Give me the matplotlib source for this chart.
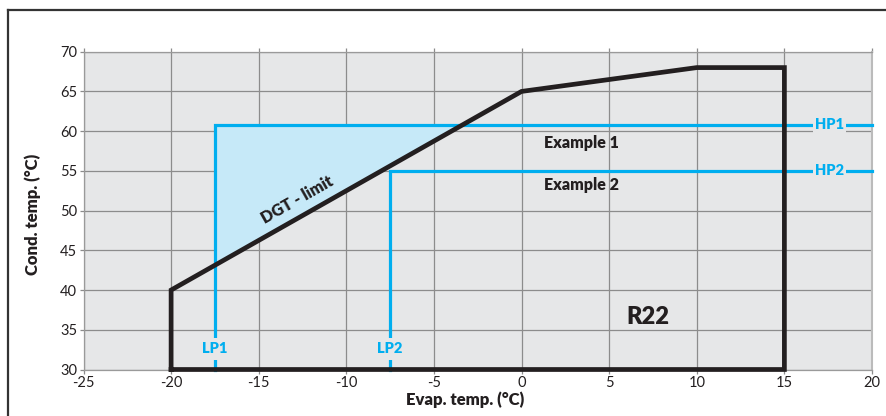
import numpy as np
import matplotlib
matplotlib.use("Agg")
import matplotlib.pyplot as plt
from matplotlib.lines import Line2D

# ---- data ----
env_x = [-20, -20, 0, 10, 15, 15, -20]
env_y = [30, 40, 65, 68, 68, 30, 30]
lp_names = ["LP1", "LP2"]
lp_x = [-17.5, -7.5]
hp_names = ["HP1", "HP2"]
hp_y = [60.8, 55]
example_names = ["Example 1", "Example 2"]
xticks = [-25, -20, -15, -10, -5, 0, 5, 10, 15, 20]
yticks = [30, 35, 40, 45, 50, 55, 60, 65, 70]

plt.rcParams['font.family'] = ['Lato', 'DejaVu Sans']
plt.rcParams['axes.unicode_minus'] = False

BG = '#E6E7E8'
BLUE = '#00AEEF'
FILL = '#C6E9F8'
BLACK = '#231F20'
GRID = '#8C8C8C'
BW = 'heavy'

fig = plt.figure(figsize=(8.86, 4.16), dpi=100)
ax = fig.add_axes([83.5/886, 1-369.5/416, (872-83.5)/886, (369.5-51.7)/416])
ax.set_facecolor(BG)
ax.set_xlim(xticks[0], xticks[-1])
ax.set_ylim(yticks[0], yticks[-1])
ax.set_xticks(xticks)
ax.set_yticks(yticks)
ax.grid(True, color=GRID, linewidth=0.9, zorder=0)
ax.set_axisbelow(True)
ax.tick_params(axis='both', direction='out', length=3, width=0.9, color=GRID,
               labelsize=10.5, labelcolor=BLACK, pad=1.5)
ax.tick_params(axis='x', top=True)
for s in ['left', 'top', 'bottom']:
    ax.spines[s].set_color('#9A9A9A')
    ax.spines[s].set_linewidth(0.9)
ax.spines['right'].set_color('#BBBBBB')
ax.spines['right'].set_linewidth(1.5)

# DGT-limit segment from envelope
dgt_x = env_x[1:3]
dgt_y = env_y[1:3]
def dgt(x):
    return np.interp(x, dgt_x, dgt_y)
slope = (dgt_y[1]-dgt_y[0])/(dgt_x[1]-dgt_x[0])
x_int = dgt_x[0] + (hp_y[0]-dgt_y[0])/slope
xf = np.linspace(lp_x[0], x_int, 50)
ax.fill_between(xf, dgt(xf), hp_y[0], color=FILL, lw=0, zorder=1)

# example lines
for lx, hy in zip(lp_x, hp_y):
    ax.plot([lx, lx, xticks[-1]], [yticks[0], hy, hy], color=BLUE, lw=2.3,
            solid_joinstyle='miter', zorder=3, clip_on=False)

# envelope
ax.plot(env_x, env_y, color=BLACK, lw=3.4, solid_joinstyle='miter',
        zorder=4, clip_on=False)

# labels on lines
for name, lx in zip(lp_names, lp_x):
    ax.text(lx, 32.6, name, color=BLUE, fontsize=10.5, fontweight=BW,
            ha='center', va='center', zorder=5,
            bbox=dict(facecolor=BG, edgecolor='none', pad=3))
for name, hy in zip(hp_names, hp_y):
    ax.text(17.6, hy, name, color=BLUE, fontsize=10.5, fontweight=BW,
            ha='center', va='center', zorder=5,
            bbox=dict(facecolor=BG, edgecolor='none', pad=1.5))
ex_pos_y = [58.5, 53.2]
for name, ey in zip(example_names, ex_pos_y):
    ax.text(3.4, ey, name, color=BLACK, fontsize=11.5, fontweight=BW,
            ha='center', va='center', zorder=5)

# DGT label rotated along the line
p1 = ax.transData.transform((dgt_x[0], dgt_y[0]))
p2 = ax.transData.transform((dgt_x[1], dgt_y[1]))
ang = np.degrees(np.arctan2(p2[1]-p1[1], p2[0]-p1[0]))
ax.text(-12.8, 51.4, "DGT - limit", color=BLACK, fontsize=11.5, fontweight=BW,
        ha='center', va='center', rotation=ang, rotation_mode='anchor', zorder=5)

ax.text(7.2, 36.6, "R22", color=BLACK, fontsize=17, fontweight=BW,
        ha='center', va='center', zorder=5)

fig.text(465/886, 1-400/416, "Evap. temp. (°C)", fontsize=12, fontweight=BW,
         color=BLACK, ha='center', va='center')
fig.text(33/886, 1-214/416, "Cond. temp. (°C)", fontsize=12, fontweight=BW,
         color=BLACK, ha='center', va='center', rotation=90)

# figure frame (top and left)
yt = 1-10/416
xl = 7.5/886
fig.add_artist(Line2D([xl, 1], [yt, yt], transform=fig.transFigure, color='#333333', lw=1.6))
fig.add_artist(Line2D([xl, xl], [0, yt], transform=fig.transFigure, color='#333333', lw=1.6))

fig.savefig("out.png", dpi=100)
